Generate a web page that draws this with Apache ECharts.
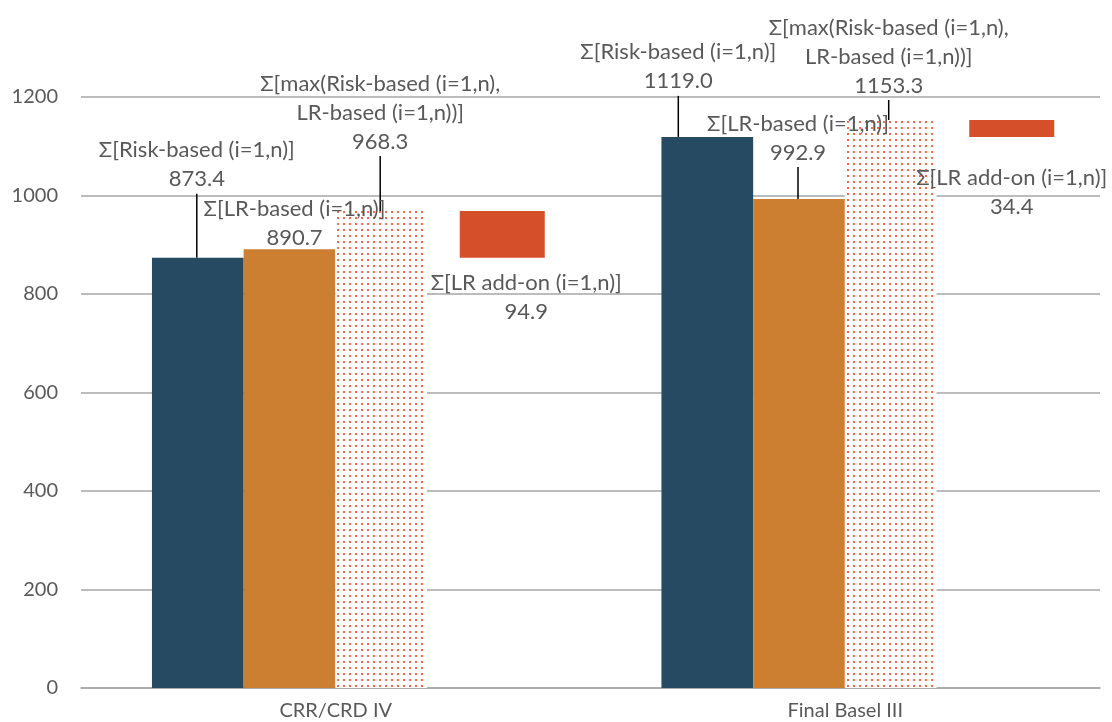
<!DOCTYPE html>
<html>
<head>
<meta charset="utf-8">
<script src="https://cdn.jsdelivr.net/npm/echarts@6/dist/echarts.min.js"></script>
<style>
  html, body { margin: 0; background: #fff; }
  #myChart { width: 1112px; height: 722px; }
</style>
</head>
<body>
<div id="myChart"></div>
<script>
// data
var categories = ['CRR/CRD IV', 'Final Basel III'];
var riskBased = [873.4, 1119.0];
var lrBased = [890.7, 992.9];
var maxBased = [968.3, 1153.3];
var lrAddOn = [94.9, 34.4];
var yMin = 0, yMax = 1200, yStep = 200;

var names = {
  risk: 'Σ[Risk-based (i=1,n)]',
  lr: 'Σ[LR-based (i=1,n)]',
  max: 'Σ[max(Risk-based (i=1,n),\nLR-based (i=1,n))]',
  addon: 'Σ[LR add-on (i=1,n)]'
};

// where each data label sits relative to its default spot (px)
var labelShift = {
  risk: [[-1, -59], [-29, -36]],
  lr: [[5, 8], [-1, -27]],
  max: [[-1, -50], [-2, -15]],
  addon: [[24, 6], [0, 22]]
};

var textColor = '#595959';
var font = 'Lato';

// dotted fill for the max() bars
var dots = document.createElement('canvas');
dots.width = 6;
dots.height = 6;
var ctx = dots.getContext('2d');
ctx.fillStyle = '#ffffff';
ctx.fillRect(0, 0, 6, 6);
ctx.fillStyle = '#ee6a4b';
ctx.fillRect(1, 1, 2, 2);

function shiftFor(key) {
  return function (params) {
    var s = labelShift[key][params.dataIndex];
    return { dx: s[0], dy: s[1] };
  };
}

function dataLabel(position) {
  return {
    show: true,
    position: position,
    color: textColor,
    fontFamily: font,
    fontSize: 22,
    lineHeight: 29,
    formatter: function (p) {
      return p.seriesName + '\n' + Number(p.value).toFixed(1);
    }
  };
}

var leader = { show: true, lineStyle: { color: '#000', width: 1.5 } };

var gridTop = 97, gridBottom = 34;

var myChart = echarts.init(document.getElementById('myChart'));
myChart.setOption({
  animation: false,
  backgroundColor: '#fff',
  grid: [
    // frame: gridlines, axis labels
    { left: 81, right: 12, top: gridTop, bottom: gridBottom, outerBoundsMode: 'none' },
    // the three side-by-side bars
    { left: 34.75, right: 58.25, top: gridTop, bottom: gridBottom, outerBoundsMode: 'none' },
    // floating add-on bar
    { left: 247.5, right: -154.5, top: gridTop, bottom: gridBottom, outerBoundsMode: 'none' }
  ],
  xAxis: [
    {
      type: 'category',
      gridIndex: 0,
      data: categories,
      axisLine: { lineStyle: { color: '#a6a6a6', width: 1.5 } },
      axisTick: { show: false },
      axisLabel: { color: textColor, fontFamily: font, fontSize: 20, margin: 13 }
    },
    { type: 'category', gridIndex: 1, data: categories, show: false },
    { type: 'category', gridIndex: 2, data: categories, show: false }
  ],
  yAxis: [
    {
      type: 'value',
      gridIndex: 0,
      min: yMin,
      max: yMax,
      interval: yStep,
      axisLine: { show: false },
      axisTick: { show: false },
      axisLabel: {
        color: textColor,
        fontFamily: font,
        fontSize: 20,
        margin: 23,
        formatter: function (v) { return String(v); }
      },
      splitLine: { lineStyle: { color: '#a6a6a6', width: 1.5 } }
    },
    { type: 'value', gridIndex: 1, min: yMin, max: yMax, show: false },
    { type: 'value', gridIndex: 2, min: yMin, max: yMax, show: false }
  ],
  series: [
    {
      name: names.risk,
      type: 'bar',
      xAxisIndex: 1,
      yAxisIndex: 1,
      barWidth: 91.7,
      barGap: '0%',
      itemStyle: { color: '#274a63' },
      label: dataLabel('top'),
      labelLine: leader,
      labelLayout: shiftFor('risk'),
      data: riskBased
    },
    {
      name: names.lr,
      type: 'bar',
      xAxisIndex: 1,
      yAxisIndex: 1,
      barWidth: 91.7,
      barGap: '0%',
      itemStyle: { color: '#cd7f31' },
      label: dataLabel('top'),
      labelLayout: shiftFor('lr'),
      data: lrBased.map(function (v, i) {
        return i === 1 ? { value: v, labelLine: leader } : v;
      })
    },
    {
      name: names.max,
      type: 'bar',
      xAxisIndex: 1,
      yAxisIndex: 1,
      barWidth: 91.7,
      barGap: '0%',
      itemStyle: { color: { image: dots, repeat: 'repeat' } },
      label: dataLabel('top'),
      labelLine: leader,
      labelLayout: shiftFor('max'),
      data: maxBased
    },
    {
      name: 'base',
      type: 'bar',
      xAxisIndex: 2,
      yAxisIndex: 2,
      stack: 'addon',
      barWidth: 85,
      itemStyle: { color: 'transparent' },
      silent: true,
      data: riskBased
    },
    {
      name: names.addon,
      type: 'bar',
      xAxisIndex: 2,
      yAxisIndex: 2,
      stack: 'addon',
      barWidth: 85,
      itemStyle: { color: '#d44f2a' },
      label: dataLabel('bottom'),
      labelLayout: shiftFor('addon'),
      data: lrAddOn
    }
  ]
});
</script>
</body>
</html>
